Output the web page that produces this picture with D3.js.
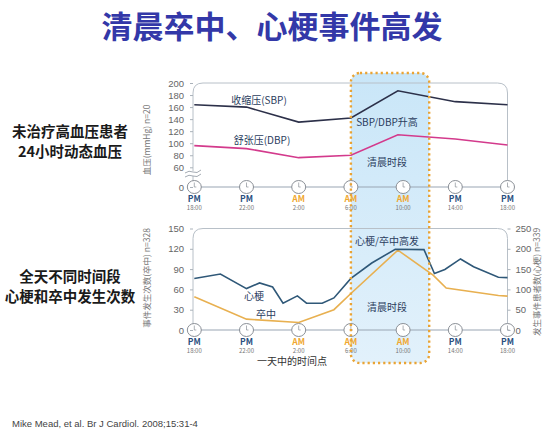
<!DOCTYPE html>
<html>
<head>
<meta charset="utf-8">
<script src="https://cdn.jsdelivr.net/npm/d3@7"></script>
<style>
  html, body { margin: 0; padding: 0; background: #fff; }
  svg { display: block; font-family: "Noto Sans CJK SC", "Noto Sans", sans-serif; }
</style>
</head>
<body>
<div id="chart"></div>
<script>
// time axis (hours after 18:00)
const clockHours = [0, 4, 8, 12, 16, 20, 24];
const clockPeriods = ["PM", "PM", "AM", "AM", "AM", "PM", "PM"];
const clockTimes = ["18:00", "22:00", "2:00", "6:00", "10:00", "14:00", "18:00"];

// blood pressure panel
const bpHours = [0, 4, 8, 12, 15.6, 20, 24];
const sbpValues = [164, 160, 135, 142, 187, 169, 164];
const dbpValues = [96, 91, 76, 80, 114, 107, 97];
const bpTicks = [0, 60, 80, 100, 120, 140, 160, 180, 200];

// events panel
const miHours = [0, 2, 4, 5, 6, 6.8, 7.9, 8.6, 9.8, 10.7, 12, 13.6, 15.4, 17.6, 18.4, 19.2, 20.4, 21.4, 23.3, 24];
const miValues = [127, 138, 102, 116, 106, 66, 84, 66, 66, 79, 127, 165, 199, 198, 139, 149, 175, 156, 130, 129];
const strokeHours = [0, 4, 8, 10.7, 12, 15.6, 18.3, 19.3, 23.3, 24];
const strokeValues = [49, 16, 11, 30, 54, 118, 81, 62, 51, 50];
const strokeTicks = [0, 30, 60, 90, 120, 150];
const miTicks = [0, 50, 100, 150, 200, 250];

const width = 559, height = 431;

const svg = d3.select("#chart").append("svg")
    .attr("width", width).attr("height", height);

const x = d3.scaleLinear().domain([0, 24]).range([194.3, 507.5]);
const yBp = d3.scaleLinear().domain([0, 60, 200]).range([187, 167.3, 83]);
const yStroke = d3.scaleLinear().domain([0, 150]).range([330, 228.5]);
const yMi = d3.scaleLinear().domain([0, 250]).range([330, 228.5]);

const frameLeft = 193, frameRight = 507.5;

// gradient for the morning box
const defs = svg.append("defs");
const grad = defs.append("linearGradient").attr("id", "morning")
    .attr("x1", 0).attr("y1", 0).attr("x2", 0).attr("y2", 1);
grad.append("stop").attr("offset", "0%").attr("stop-color", "#c9e6f8");
grad.append("stop").attr("offset", "100%").attr("stop-color", "#e2f1fb");

const boxX0 = x(12), boxX1 = x(18), boxY0 = 73, boxY1 = 363;
svg.append("rect")
    .attr("x", boxX0).attr("y", boxY0)
    .attr("width", boxX1 - boxX0).attr("height", boxY1 - boxY0)
    .attr("rx", 9).attr("fill", "url(#morning)");

// title
svg.append("text")
    .attr("x", 272).attr("y", 38).attr("text-anchor", "middle")
    .attr("font-size", 31).attr("font-weight", "bold").attr("fill", "#3338a8")
    .text("清晨卒中、心梗事件高发");

// side captions
const captions = [
    { text: "未治疗高血压患者", y: 137 },
    { text: "24小时动态血压", y: 157 },
    { text: "全天不同时间段", y: 282 },
    { text: "心梗和卒中发生次数", y: 302 }
];
svg.selectAll(".caption").data(captions).enter().append("text")
    .attr("class", "caption")
    .attr("x", 70).attr("y", d => d.y).attr("text-anchor", "middle")
    .attr("font-size", 14.5).attr("font-weight", "bold").attr("fill", "#1a1a1a")
    .text(d => d.text);

function framePath(top, bottom) {
    const r = 10;
    return `M${frameLeft},${bottom} L${frameLeft},${top + r} Q${frameLeft},${top} ${frameLeft + r},${top}` +
        ` L${frameRight - r},${top} Q${frameRight},${top} ${frameRight},${top + r} L${frameRight},${bottom}`;
}

function drawPanel(yTop, axisY) {
    svg.append("path").attr("d", framePath(yTop, axisY))
        .attr("fill", "none").attr("stroke", "#b8c0c8").attr("stroke-width", 1);
    svg.append("line")
        .attr("x1", x(0)).attr("x2", x(24)).attr("y1", axisY).attr("y2", axisY)
        .attr("stroke", "#9aa6b4").attr("stroke-width", 1.2);

    const clocks = svg.append("g").selectAll("g").data(clockHours).enter().append("g")
        .attr("transform", d => `translate(${x(d)},${axisY})`);
    clocks.append("ellipse").attr("rx", 7).attr("ry", 6.5)
        .attr("fill", "#fff").attr("stroke", "#8a8f96").attr("stroke-width", 1);
    clocks.append("path").attr("d", "M0,0 L0,-4.5 M0,0 L2,0")
        .attr("stroke", "#8a8f96").attr("stroke-width", 0.7).attr("fill", "none");

    svg.append("g").selectAll("text").data(clockHours).enter().append("text")
        .attr("x", d => x(d)).attr("y", axisY + 15).attr("text-anchor", "middle")
        .attr("font-size", 8.5).attr("font-weight", "bold")
        .attr("fill", (d, i) => clockPeriods[i] === "AM" ? "#f0a830" : "#2b4f80")
        .text((d, i) => clockPeriods[i]);
    svg.append("g").selectAll("text").data(clockHours).enter().append("text")
        .attr("x", d => x(d)).attr("y", axisY + 22.5).attr("text-anchor", "middle")
        .attr("font-size", 6).attr("fill", "#777")
        .text((d, i) => clockTimes[i]);
}

function styleAxis(g) {
    g.select(".domain").remove();
    g.selectAll(".tick line").attr("stroke", "#aab2ba");
    g.selectAll(".tick text").attr("fill", "#666").attr("font-size", 9.5)
        .attr("font-family", "Liberation Sans, Arial, sans-serif");
}

// ---- top panel: blood pressure
drawPanel(83, 187);
svg.append("g").attr("transform", `translate(${frameLeft},0)`)
    .call(d3.axisLeft(yBp).tickValues(bpTicks).tickSize(3).tickPadding(6))
    .call(styleAxis);

// axis break
svg.append("rect").attr("x", frameLeft - 3).attr("y", 171).attr("width", 6).attr("height", 5).attr("fill", "#fff");
svg.append("path")
    .attr("d", `M${frameLeft - 8},${173} q4,-3 8,-1 t8,-2 M${frameLeft - 8},${177} q4,-3 8,-1 t8,-2`)
    .attr("fill", "none").attr("stroke", "#9aa2aa").attr("stroke-width", 0.9);

svg.append("text")
    .attr("transform", "translate(150,140) rotate(-90)").attr("text-anchor", "middle")
    .attr("font-size", 8.5).attr("fill", "#777")
    .text("血压(mmHg) n=20");

const bpLine = d3.line().x(d => x(d[0])).y(d => yBp(d[1]));
svg.append("path").datum(d3.zip(bpHours, sbpValues)).attr("d", bpLine)
    .attr("fill", "none").attr("stroke", "#2c3049").attr("stroke-width", 1.6);
svg.append("path").datum(d3.zip(bpHours, dbpValues)).attr("d", bpLine)
    .attr("fill", "none").attr("stroke", "#d33a8c").attr("stroke-width", 1.6);

const labelColor = "#2b3d5e";
svg.append("text").attr("x", 259).attr("y", 104).attr("text-anchor", "middle")
    .attr("font-size", 10).attr("fill", labelColor).text("收缩压(SBP)");
svg.append("text").attr("x", 262).attr("y", 144).attr("text-anchor", "middle")
    .attr("font-size", 10).attr("fill", labelColor).text("舒张压(DBP)");
svg.append("text").attr("x", 387).attr("y", 126).attr("text-anchor", "middle")
    .attr("font-size", 10).attr("fill", labelColor).text("SBP/DBP升高");
svg.append("text").attr("x", 387).attr("y", 166).attr("text-anchor", "middle")
    .attr("font-size", 10).attr("fill", labelColor).text("清晨时段");

// ---- bottom panel: events
drawPanel(228.5, 330);
svg.append("g").attr("transform", `translate(${frameLeft},0)`)
    .call(d3.axisLeft(yStroke).tickValues(strokeTicks).tickSize(3).tickPadding(6))
    .call(styleAxis);
svg.append("g").attr("transform", `translate(${frameRight},0)`)
    .call(d3.axisRight(yMi).tickValues(miTicks).tickSize(3).tickPadding(5))
    .call(styleAxis);

svg.append("text")
    .attr("transform", "translate(150,278) rotate(-90)").attr("text-anchor", "middle")
    .attr("font-size", 8.5).attr("fill", "#777")
    .text("事件发生次数(卒中) n=328");
svg.append("text")
    .attr("transform", "translate(540,282) rotate(-90)").attr("text-anchor", "middle")
    .attr("font-size", 8.5).attr("fill", "#777")
    .text("发生事件患者数(心梗) n=339");

svg.append("path").datum(d3.zip(strokeHours, strokeValues))
    .attr("d", d3.line().x(d => x(d[0])).y(d => yStroke(d[1])))
    .attr("fill", "none").attr("stroke", "#e8b050").attr("stroke-width", 1.6);
svg.append("path").datum(d3.zip(miHours, miValues))
    .attr("d", d3.line().x(d => x(d[0])).y(d => yMi(d[1])))
    .attr("fill", "none").attr("stroke", "#2f5878").attr("stroke-width", 1.6);

svg.append("text").attr("x", 254).attr("y", 300).attr("text-anchor", "middle")
    .attr("font-size", 10).attr("fill", labelColor).text("心梗");
svg.append("text").attr("x", 266).attr("y", 318).attr("text-anchor", "middle")
    .attr("font-size", 10).attr("fill", labelColor).text("卒中");
svg.append("text").attr("x", 387).attr("y", 244.5).attr("text-anchor", "middle")
    .attr("font-size", 10).attr("fill", labelColor).text("心梗/卒中高发");
svg.append("text").attr("x", 387).attr("y", 310.5).attr("text-anchor", "middle")
    .attr("font-size", 10).attr("fill", labelColor).text("清晨时段");

svg.append("text").attr("x", 292).attr("y", 365).attr("text-anchor", "middle")
    .attr("font-size", 10).attr("fill", "#333").text("一天中的时间点");

// dotted border of the morning box
svg.append("rect")
    .attr("x", boxX0).attr("y", boxY0)
    .attr("width", boxX1 - boxX0).attr("height", boxY1 - boxY0)
    .attr("rx", 9).attr("fill", "none")
    .attr("stroke", "#e9a435").attr("stroke-width", 2.4)
    .attr("stroke-dasharray", "2.2,3").attr("stroke-linecap", "butt");

// reference
svg.append("text").attr("x", 12).attr("y", 427)
    .attr("font-size", 9.5).attr("fill", "#444")
    .attr("font-family", "Liberation Sans, Arial, sans-serif")
    .text("Mike Mead, et al. Br J Cardiol. 2008;15:31-4");
</script>
</body>
</html>
